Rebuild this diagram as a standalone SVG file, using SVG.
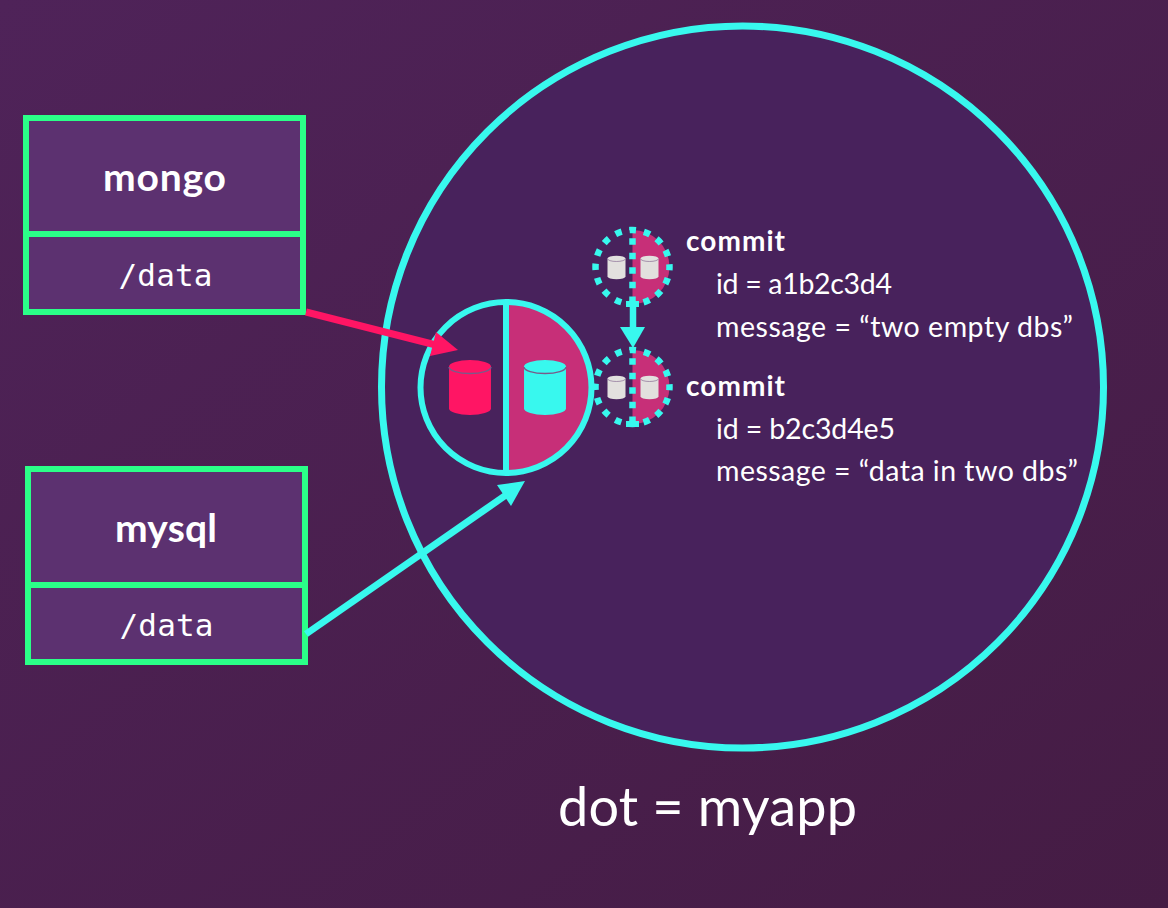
<svg xmlns="http://www.w3.org/2000/svg" width="1168" height="908" viewBox="0 0 1168 908">
<style>
.t{font-family:"Lato","Noto Sans",sans-serif;fill:#fff}
.b{font-weight:700;font-size:28px}
.m{font-size:28.500px}
.box{fill:#5c3170;stroke:#2bff88;stroke-width:6}
.mono{font-family:"DejaVu Sans Mono","Liberation Mono",monospace;font-size:31px;fill:#fff;text-anchor:middle}
.name{font-family:"Lato","Noto Sans",sans-serif;font-weight:700;font-size:39px;fill:#fff;text-anchor:middle}
.dot{fill:none;stroke:#38f8ee;stroke-width:6.500;stroke-dasharray:6.500 8.030;stroke-dashoffset:3.250}
.cl{fill:#c72f78}
.grey{fill:#e2e0de}
</style>
<defs>
<linearGradient id="bg" x1="0" y1="0" x2="1" y2="1"><stop offset="0" stop-color="#4f2359"/><stop offset="1" stop-color="#451c44"/></linearGradient>
<g id="cyl"><path d="M-9 -9V9A9 2.800 0 0 0 9 9V-9Z"/><ellipse cx="0" cy="-9" rx="9" ry="2.800"/><path d="M-9 -8.800A9 2.800 0 0 0 9 -8.800" fill="none" stroke="#7a5a8a" stroke-width=".6"/></g>
<g id="commit">
<path class="cl" d="M0 -37A37 37 0 0 1 0 37Z"/>
<circle class="dot" r="37"/>
<path d="M0 -40V37" class="dot"/>
<rect x="-6.500" y="34" width="13" height="6" fill="#38f8ee"/>
<use href="#cyl" x="-16" y="0.500" class="grey"/>
<use href="#cyl" x="17" y="0.500" class="grey"/>
</g>
</defs>
<rect width="1168" height="908" fill="url(#bg)"/>
<g id="app"><circle cx="742.500" cy="387" r="361" fill="#48225c" stroke="#38f8ee" stroke-width="7"/>
<text class="t" x="558" y="826" font-size="54" textLength="299">dot = myapp</text></g>
<g id="mongo"><rect class="box" x="26" y="118" width="277" height="116"/><rect class="box" x="26" y="234" width="277" height="78"/>
<text class="name" x="164.500" y="190.500" textLength="123">mongo</text><text class="mono" x="165.500" y="285.500" textLength="94">/data</text></g>
<g id="mysql"><rect class="box" x="28" y="469" width="277" height="116"/><rect class="box" x="28" y="585" width="277" height="77"/>
<text class="name" x="166" y="541.500" textLength="102">mysql</text><text class="mono" x="166.500" y="635.500" textLength="94">/data</text></g>
<g id="commit1"><use href="#commit" x="632.500" y="267"/>
<text class="t b" x="686" y="250.500" textLength="99">commit</text><text class="t m" x="716" y="293.500" textLength="176">id = a1b2c3d4</text><text class="t m" x="716" y="337" textLength="357">message = “two empty dbs”</text></g>
<g id="commit2"><use href="#commit" x="632.500" y="387"/>
<text class="t b" x="686" y="395.500" textLength="99">commit</text><text class="t m" x="716" y="438.500" textLength="179">id = b2c3d4e5</text><text class="t m" x="716" y="481" textLength="362">message = “data in two dbs”</text></g>
<g id="db">
<path class="cl" d="M506 302A85.500 85.500 0 0 1 506 473Z"/>
<circle cx="506" cy="387.500" r="85.500" fill="none" stroke="#38f8ee" stroke-width="6"/>
<path d="M506 302V473" stroke="#38f8ee" stroke-width="6"/>
<use href="#cyl" transform="translate(470 387.500) scale(2.330)" fill="#ff1564"/>
<use href="#cyl" transform="translate(545 387.500) scale(2.330)" fill="#38f8ee"/>
</g>
<g id="connectors">
<path d="M306 312L436 345" stroke="#ff1564" stroke-width="7" fill="none"/>
<path d="M458 350L430 356 436 332Z" fill="#ff1564"/>
<path d="M306 634L506 495" stroke="#38f8ee" stroke-width="7" fill="none"/>
<path d="M525 481L511 506 497 485Z" fill="#38f8ee"/>
<path d="M633 303V330" stroke="#38f8ee" stroke-width="6.500"/>
<path d="M620 327H645L633 348Z" fill="#38f8ee"/>
</g>
</svg>
